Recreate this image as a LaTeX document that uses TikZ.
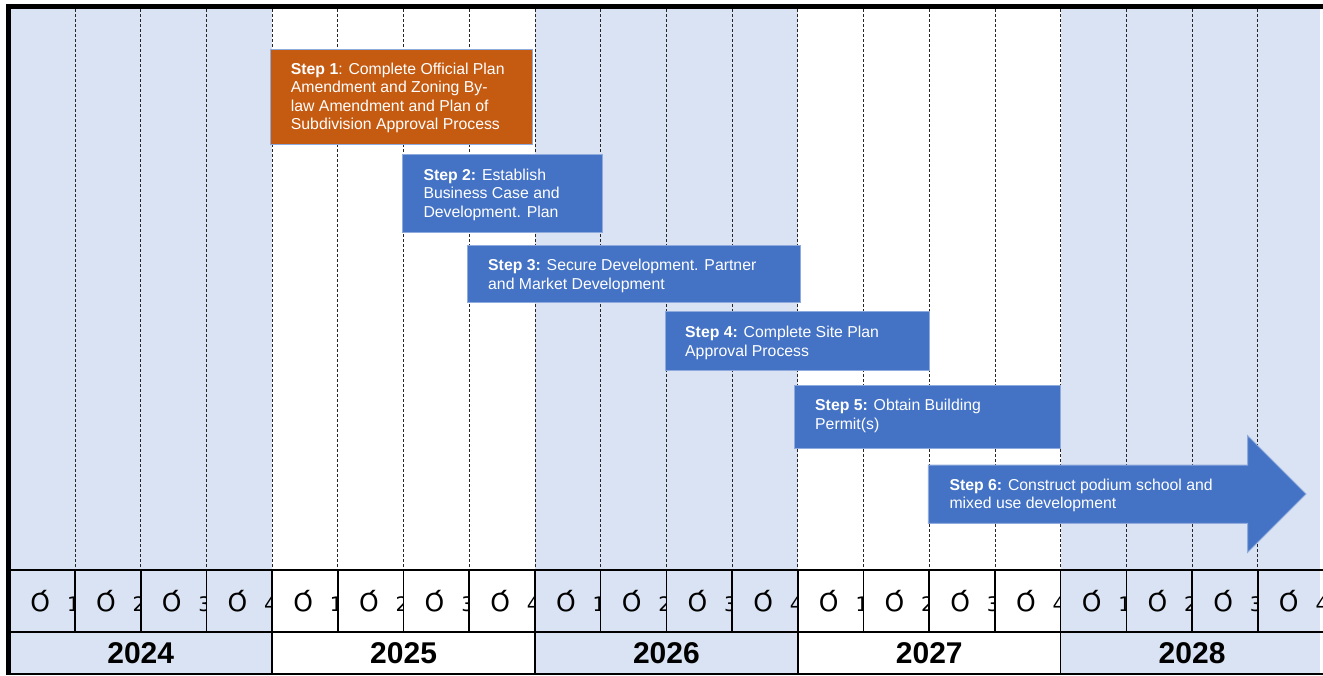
\documentclass[tikz,border=0pt]{standalone}
\usepackage{fontspec}
\setmainfont{Liberation Sans}
\newfontfamily\qfont{DejaVu Sans}
\usepackage{graphicx}
\definecolor{stepblue}{HTML}{4472C4}
\definecolor{steporange}{HTML}{C55A11}
\definecolor{lightcol}{HTML}{DAE3F3}
\definecolor{stepedge}{HTML}{8FAADC}
\begin{document}
\begin{tikzpicture}[x=1pt,y=-1pt,
  dashline/.style={draw=black!85, line width=0.9pt, dash pattern=on 3pt off 2pt},
  gridline/.style={draw=black, line width=1.6pt},
  borderline/.style={draw=black, line width=5pt},
  bluebox/.style={fill=stepblue, draw=stepedge, line width=1pt},
  orangebox/.style={fill=steporange, draw=stepedge, line width=1pt},
  steptext/.style={text=white, font=\fontsize{15.8}{18.5}\selectfont, align=left, anchor=north west, inner sep=0pt},
  qlabel/.style={font=\qfont\fontsize{25}{25}\selectfont, inner sep=0pt},
  qdigit/.style={font=\qfont\fontsize{20}{20}\selectfont, inner sep=0pt, anchor=west},
  yearlabel/.style={font=\fontsize{30}{30}\selectfont\bfseries, inner sep=0pt}
]
\useasboundingbox (0,0) rectangle (1323,675);
% year column fills
\fill[lightcol] (9.3,8) rectangle (272.14,674);
\fill[lightcol] (535,8) rectangle (797.84,674);
\fill[lightcol] (1060.7,8) rectangle (1320,674);
% dashed quarter dividers
\foreach \i in {1,...,19} {
  \draw[dashline] (9.3+65.71*\i, 9) -- (9.3+65.71*\i, 570);
}
% step boxes
\filldraw[orangebox] (270,49) rectangle (532.3,144);
\node[steptext] (s1) at (290.7,62.5) {\textbf{Step 1}: Complete Official Plan\\Amendment and Zoning By-\\law Amendment and Plan of\\Subdivision Approval Process};
\filldraw[bluebox] (402.3,154.3) rectangle (602.7,232.7);
\node[steptext] (s2) at (423.3,168.5) {\textbf{Step 2:} Establish\\Business Case and\\Development. Plan};
\filldraw[bluebox] (467,245) rectangle (800.7,302.7);
\node[steptext] (s3) at (488,259) {\textbf{Step 3:} Secure Development. Partner\\and Market Development};
\filldraw[bluebox] (665,311.7) rectangle (929.3,370);
\node[steptext] (s4) at (685,326) {\textbf{Step 4:} Complete Site Plan\\Approval Process};
\filldraw[bluebox] (794,385.7) rectangle (1060,448.3);
\node[steptext] (s5) at (815,399.2) {\textbf{Step 5:} Obtain Building\\Permit(s)};
\filldraw[bluebox] (928.3,465) -- (1247.7,465) -- (1247.7,435.7) -- (1306,494)
   -- (1247.7,552.3) -- (1247.7,523.3) -- (928.3,523.3) -- cycle;
\node[steptext] (s6) at (949.3,478.5) {\textbf{Step 6:} Construct podium school and\\mixed use development};
% quarter row
\foreach \i in {0,...,19} {
  \pgfmathsetmacro\xl{9.3+65.71*\i}
  \pgfmathsetmacro\xr{\xl+65.71}
  \pgfmathtruncatemacro\q{mod(\i,4)+1}
  \node[qlabel] (q\i) at (\xl+31,601) {\scalebox{1}[-1]{Q}};
  \begin{scope}
    \clip (\xl,571) rectangle (\xr-1,631);
    \node[qdigit] (d\i) at (\xl+57.5,604) {\q};
  \end{scope}
}
% grid lines
\draw[gridline] (9.3,570) -- (1323,570);
\draw[gridline] (9.3,632) -- (1323,632);
\draw[gridline] (9.3,674) -- (1323,674);
\foreach \i in {1,...,19} {
  \draw[gridline] (9.3+65.71*\i,570) -- (9.3+65.71*\i,632);
}
\foreach \i in {4,8,12,16} {
  \draw[gridline] (9.3+65.71*\i,632) -- (9.3+65.71*\i,674);
}
% year labels
\node[yearlabel] (y2024) at (140.7,653) {2024};
\node[yearlabel] (y2025) at (403.6,653) {2025};
\node[yearlabel] (y2026) at (666.4,653) {2026};
\node[yearlabel] (y2027) at (929.3,653) {2027};
\node[yearlabel] (y2028) at (1192.1,653) {2028};
% outer border
\draw[borderline] (6.5,6.5) -- (1323,6.5);
\draw[borderline] (8.8,4) -- (8.8,675);
\end{tikzpicture}
\end{document}
